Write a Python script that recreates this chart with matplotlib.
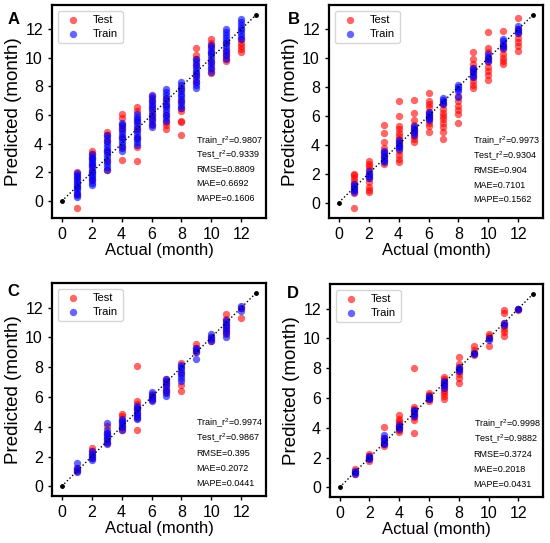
import matplotlib
matplotlib.use("Agg")
import matplotlib.pyplot as plt

plt.rcParams['font.family'] = ['Liberation Sans', 'DejaVu Sans']
plt.rcParams['mathtext.fontset'] = 'custom'
plt.rcParams['mathtext.rm'] = 'Liberation Sans'
plt.rcParams['mathtext.it'] = 'Liberation Sans:italic'

months = [1, 2, 3, 4, 5, 6, 7, 8, 9, 10, 11, 12]
ticks = [0, 2, 4, 6, 8, 10, 12]
panel_labels = ["A", "B", "C", "D"]

A_train = [
    [0.3, 0.45, 0.6, 0.75, 0.9, 1.05, 1.2, 1.35, 1.5, 1.65, 1.8, 1.95],
    [1.15, 1.3, 1.45, 1.6, 1.75, 1.9, 2.05, 2.2, 2.35, 2.5, 2.65, 2.8, 2.95, 3.1, 3.3],
    [2.2, 2.4, 2.6, 2.8, 3.0, 3.2, 3.4, 3.6, 3.8, 4.0, 4.2, 4.4, 4.6],
    [3.5, 3.7, 3.9, 4.1, 4.3, 4.5, 4.7, 4.9, 5.1, 5.3, 5.45],
    [3.9, 4.1, 4.3, 4.5, 4.7, 4.9, 5.1, 5.3, 5.5, 5.7, 5.9, 6.1],
    [5.2, 5.4, 5.6, 5.8, 6.0, 6.2, 6.4, 6.6, 6.8, 7.0, 7.2, 7.4],
    [5.6, 5.8, 6.0, 6.2, 6.4, 6.6, 6.8, 7.0, 7.2, 7.4, 7.6, 7.8],
    [6.5, 6.7, 6.9, 7.1, 7.3, 7.5, 7.7, 7.9, 8.1, 8.3],
    [7.9, 8.1, 8.3, 8.5, 8.7, 8.9, 9.1, 9.3, 9.5, 9.7, 9.9],
    [9.0, 9.3, 9.5, 9.7, 9.9, 10.1, 10.3, 10.5, 10.7, 10.9],
    [9.9, 10.2, 10.4, 10.6, 10.8, 11.0, 11.2, 11.4, 11.6, 11.8, 12.0],
    [11.3, 11.5, 11.7, 11.9, 12.1, 12.3, 12.5, 12.7],
]
A_test = [
    [-0.5, 0.5, 1.0, 1.6, 2.0],
    [1.5, 2.0, 2.5, 3.0, 3.3, 3.5],
    [2.2, 2.8, 3.5, 4.2, 4.6, 4.8],
    [2.9, 3.8, 4.5, 5.0, 5.3, 5.8, 6.1],
    [2.8, 3.8, 4.4, 5.0, 5.6, 6.3, 6.55],
    [5.3, 5.7, 6.0, 6.5, 7.0, 7.3],
    [5.0, 5.3, 5.5, 6.0, 6.6, 7.1],
    [4.6, 5.5, 5.6, 6.3, 6.5, 7.0, 7.8],
    [8.3, 8.8, 9.5, 9.9, 10.2, 10.7],
    [8.9, 9.2, 9.7, 10.3, 10.8, 11.0, 11.3],
    [9.8, 10.0, 10.2, 10.5, 11.0],
    [10.4, 10.6, 10.8, 11.0, 11.3],
]

B_train = [
    [0.7, 0.85, 1.0, 1.15, 1.3],
    [1.7, 1.85, 2.0, 2.15],
    [2.8, 2.95, 3.1, 3.25, 3.4, 3.55],
    [3.7, 3.85, 4.0, 4.15, 4.3],
    [4.7, 4.85, 5.0, 5.15, 5.3],
    [5.7, 5.85, 6.0, 6.15, 6.3],
    [6.8, 6.95, 7.1, 7.2],
    [7.3, 7.7, 7.85, 8.0, 8.15],
    [8.7, 8.85, 9.0, 9.15, 9.3],
    [9.8, 9.95, 10.1, 10.25],
    [10.7, 10.85, 11.0, 11.15, 11.3],
    [11.7, 11.85, 12.0, 12.2],
]
B_test = [
    [-0.4, 0.65, 0.9, 1.1, 1.3, 1.5, 1.7, 1.9, 2.0],
    [0.7, 0.9, 1.1, 1.4, 1.7, 2.0, 2.3, 2.5, 2.7, 2.85],
    [2.7, 2.9, 3.2, 3.5, 3.8, 4.2, 4.8, 5.4],
    [2.8, 3.0, 3.3, 3.6, 3.9, 4.2, 4.4, 4.6, 4.8, 5.1, 5.3, 6.0, 7.0],
    [4.2, 4.4, 4.6, 4.8, 5.0, 5.4, 5.7, 6.2, 7.1],
    [4.85, 5.3, 5.5, 5.8, 6.0, 6.3, 6.6, 6.8, 7.0, 7.6],
    [4.4, 4.9, 5.2, 5.5, 5.8, 6.0, 6.2, 6.5, 6.8],
    [5.5, 6.1, 6.4, 6.7, 7.0, 7.4],
    [7.9, 8.1, 8.4, 8.7, 9.0, 9.3, 9.6, 9.9, 10.4],
    [8.5, 8.8, 9.1, 9.4, 9.7, 10.0, 10.4, 10.7, 11.8],
    [9.6, 9.8, 10.0, 10.3, 10.6, 10.8, 11.9],
    [10.5, 10.8, 11.1, 11.4, 11.7, 12.0, 12.75],
]

C_train = [
    [0.95, 1.1, 1.25, 1.55],
    [1.75, 1.9, 2.05, 2.2, 2.35],
    [2.85, 3.0, 3.15, 3.3, 3.45, 3.6, 3.75, 4.25],
    [3.8, 3.95, 4.1, 4.25, 4.4, 4.55],
    [4.5, 4.65, 4.8, 4.95, 5.1, 5.25, 5.4],
    [5.7, 5.85, 6.0, 6.15, 6.3],
    [6.05, 6.25, 6.45, 6.65, 6.85, 7.05, 7.2],
    [7.1, 7.3, 7.5, 7.7, 7.85, 8.0, 8.15],
    [8.55, 9.0, 9.15, 9.3],
    [9.75, 9.9, 10.05, 10.2],
    [10.0, 10.3, 10.5, 10.7, 10.85, 11.0, 11.15],
    [11.8, 11.95, 12.1],
]
C_test = [
    [1.0, 1.2],
    [1.9, 2.2, 2.4, 2.55],
    [2.9, 3.2, 3.6, 4.05],
    [3.8, 4.0, 4.4, 4.7, 4.85],
    [3.75, 4.6, 4.9, 5.2, 5.5, 5.7, 8.1],
    [5.8, 6.0, 6.2],
    [6.3, 6.5, 6.8, 7.0, 7.2],
    [6.4, 6.8, 7.6, 8.3],
    [9.0, 9.3, 9.55],
    [9.75, 10.0],
    [10.2, 10.4, 10.6, 10.9, 11.2, 11.55],
    [11.3, 11.95],
]

D_train = [
    [0.9, 1.0, 1.1],
    [1.9, 2.0, 2.1],
    [2.9, 3.0, 3.15, 3.3, 3.5],
    [3.9, 4.05, 4.2],
    [4.8, 4.95, 5.1, 5.2],
    [5.9, 6.0, 6.1],
    [6.7, 6.85, 7.0, 7.15],
    [7.8, 7.95, 8.1],
    [8.95, 9.05],
    [9.9, 10.05],
    [10.9, 11.05],
    [11.95, 12.0],
]
D_test = [
    [0.9, 1.05, 1.2],
    [1.8, 1.95, 2.1, 2.25],
    [2.75, 2.9, 3.1, 3.3, 4.04],
    [3.7, 3.85, 4.0, 4.15, 4.3, 4.45, 4.6, 4.85],
    [3.66, 4.5, 4.7, 4.9, 5.1, 5.25, 5.4, 8.0],
    [5.8, 5.95, 6.1, 6.2, 6.35],
    [5.9, 6.1, 6.3, 6.5, 6.7, 6.9, 7.1, 7.25, 7.4],
    [7.0, 7.35, 7.6, 7.8, 8.0, 8.3, 8.75],
    [8.9, 9.05, 9.2, 9.5],
    [9.5, 10.0, 10.15, 10.3],
    [10.15, 10.4, 10.6, 10.8, 11.0, 11.7, 11.9],
    [11.9, 12.0],
]

train_r2 = ["0.9807", "0.9973", "0.9974", "0.9998"]
test_r2 = ["0.9339", "0.9304", "0.9867", "0.9882"]
rmse = ["0.8809", "0.904", "0.395", "0.3724"]
mae = ["0.6692", "0.7101", "0.2072", "0.2018"]
mape = ["0.1606", "0.1562", "0.0441", "0.0431"]

trains = [A_train, B_train, C_train, D_train]
tests = [A_test, B_test, C_test, D_test]

W, H = 550, 543
fig = plt.figure(figsize=(W / 100, H / 100), dpi=100)

# axes boxes in pixels: left, top, right, bottom
boxes = [(52, 5, 266, 218), (329, 5, 543, 218), (52, 283, 266, 496), (330, 284, 543, 497)]
letter_pos = [(8, 12), (288, 12), (7, 284), (287, 286)]


def flatten(groups):
    xs, ys = [], []
    for m, vals in zip(months, groups):
        for v in vals:
            xs.append(m)
            ys.append(v)
    return xs, ys


for i in range(4):
    l, t, r, b = boxes[i]
    ax = fig.add_axes([l / W, (H - b) / H, (r - l) / W, (b - t) / H])
    tx, ty = flatten(tests[i])
    rx, ry = flatten(trains[i])
    ax.scatter(tx, ty, s=28, color='red', alpha=0.6, linewidths=0, label='Test')
    ax.scatter(rx, ry, s=28, color='blue', alpha=0.6, linewidths=0, label='Train')
    ax.plot([0, 13], [0, 13], color='black', linestyle=':', linewidth=1,
            marker='o', markersize=2.5)
    ax.set_xticks(ticks)
    ax.set_yticks(ticks)
    ax.tick_params(labelsize=11.5, length=3, width=1)
    ax.set_xlabel('Actual (month)', fontsize=12, labelpad=1)
    ax.set_ylabel('Predicted (month)', fontsize=13.5, labelpad=2)
    for sp in ax.spines.values():
        sp.set_linewidth(1.6)
    ax.legend(loc='upper left', fontsize=8, labelspacing=0.35)
    lines = ["Train_r$^2$=" + train_r2[i], "Test_r$^2$=" + test_r2[i],
             "RMSE=" + rmse[i], "MAE=" + mae[i], "MAPE=" + mape[i]]
    for k, s in enumerate(lines):
        ax.text(9.0, 4.2 - k * 1.0, s, fontsize=6.5, va='center', ha='left')
    lx, ly = letter_pos[i]
    fig.text(lx / W, 1 - ly / H, panel_labels[i], fontsize=12, fontweight='bold',
             va='top', ha='left')

fig.savefig('out.png', dpi=100)
